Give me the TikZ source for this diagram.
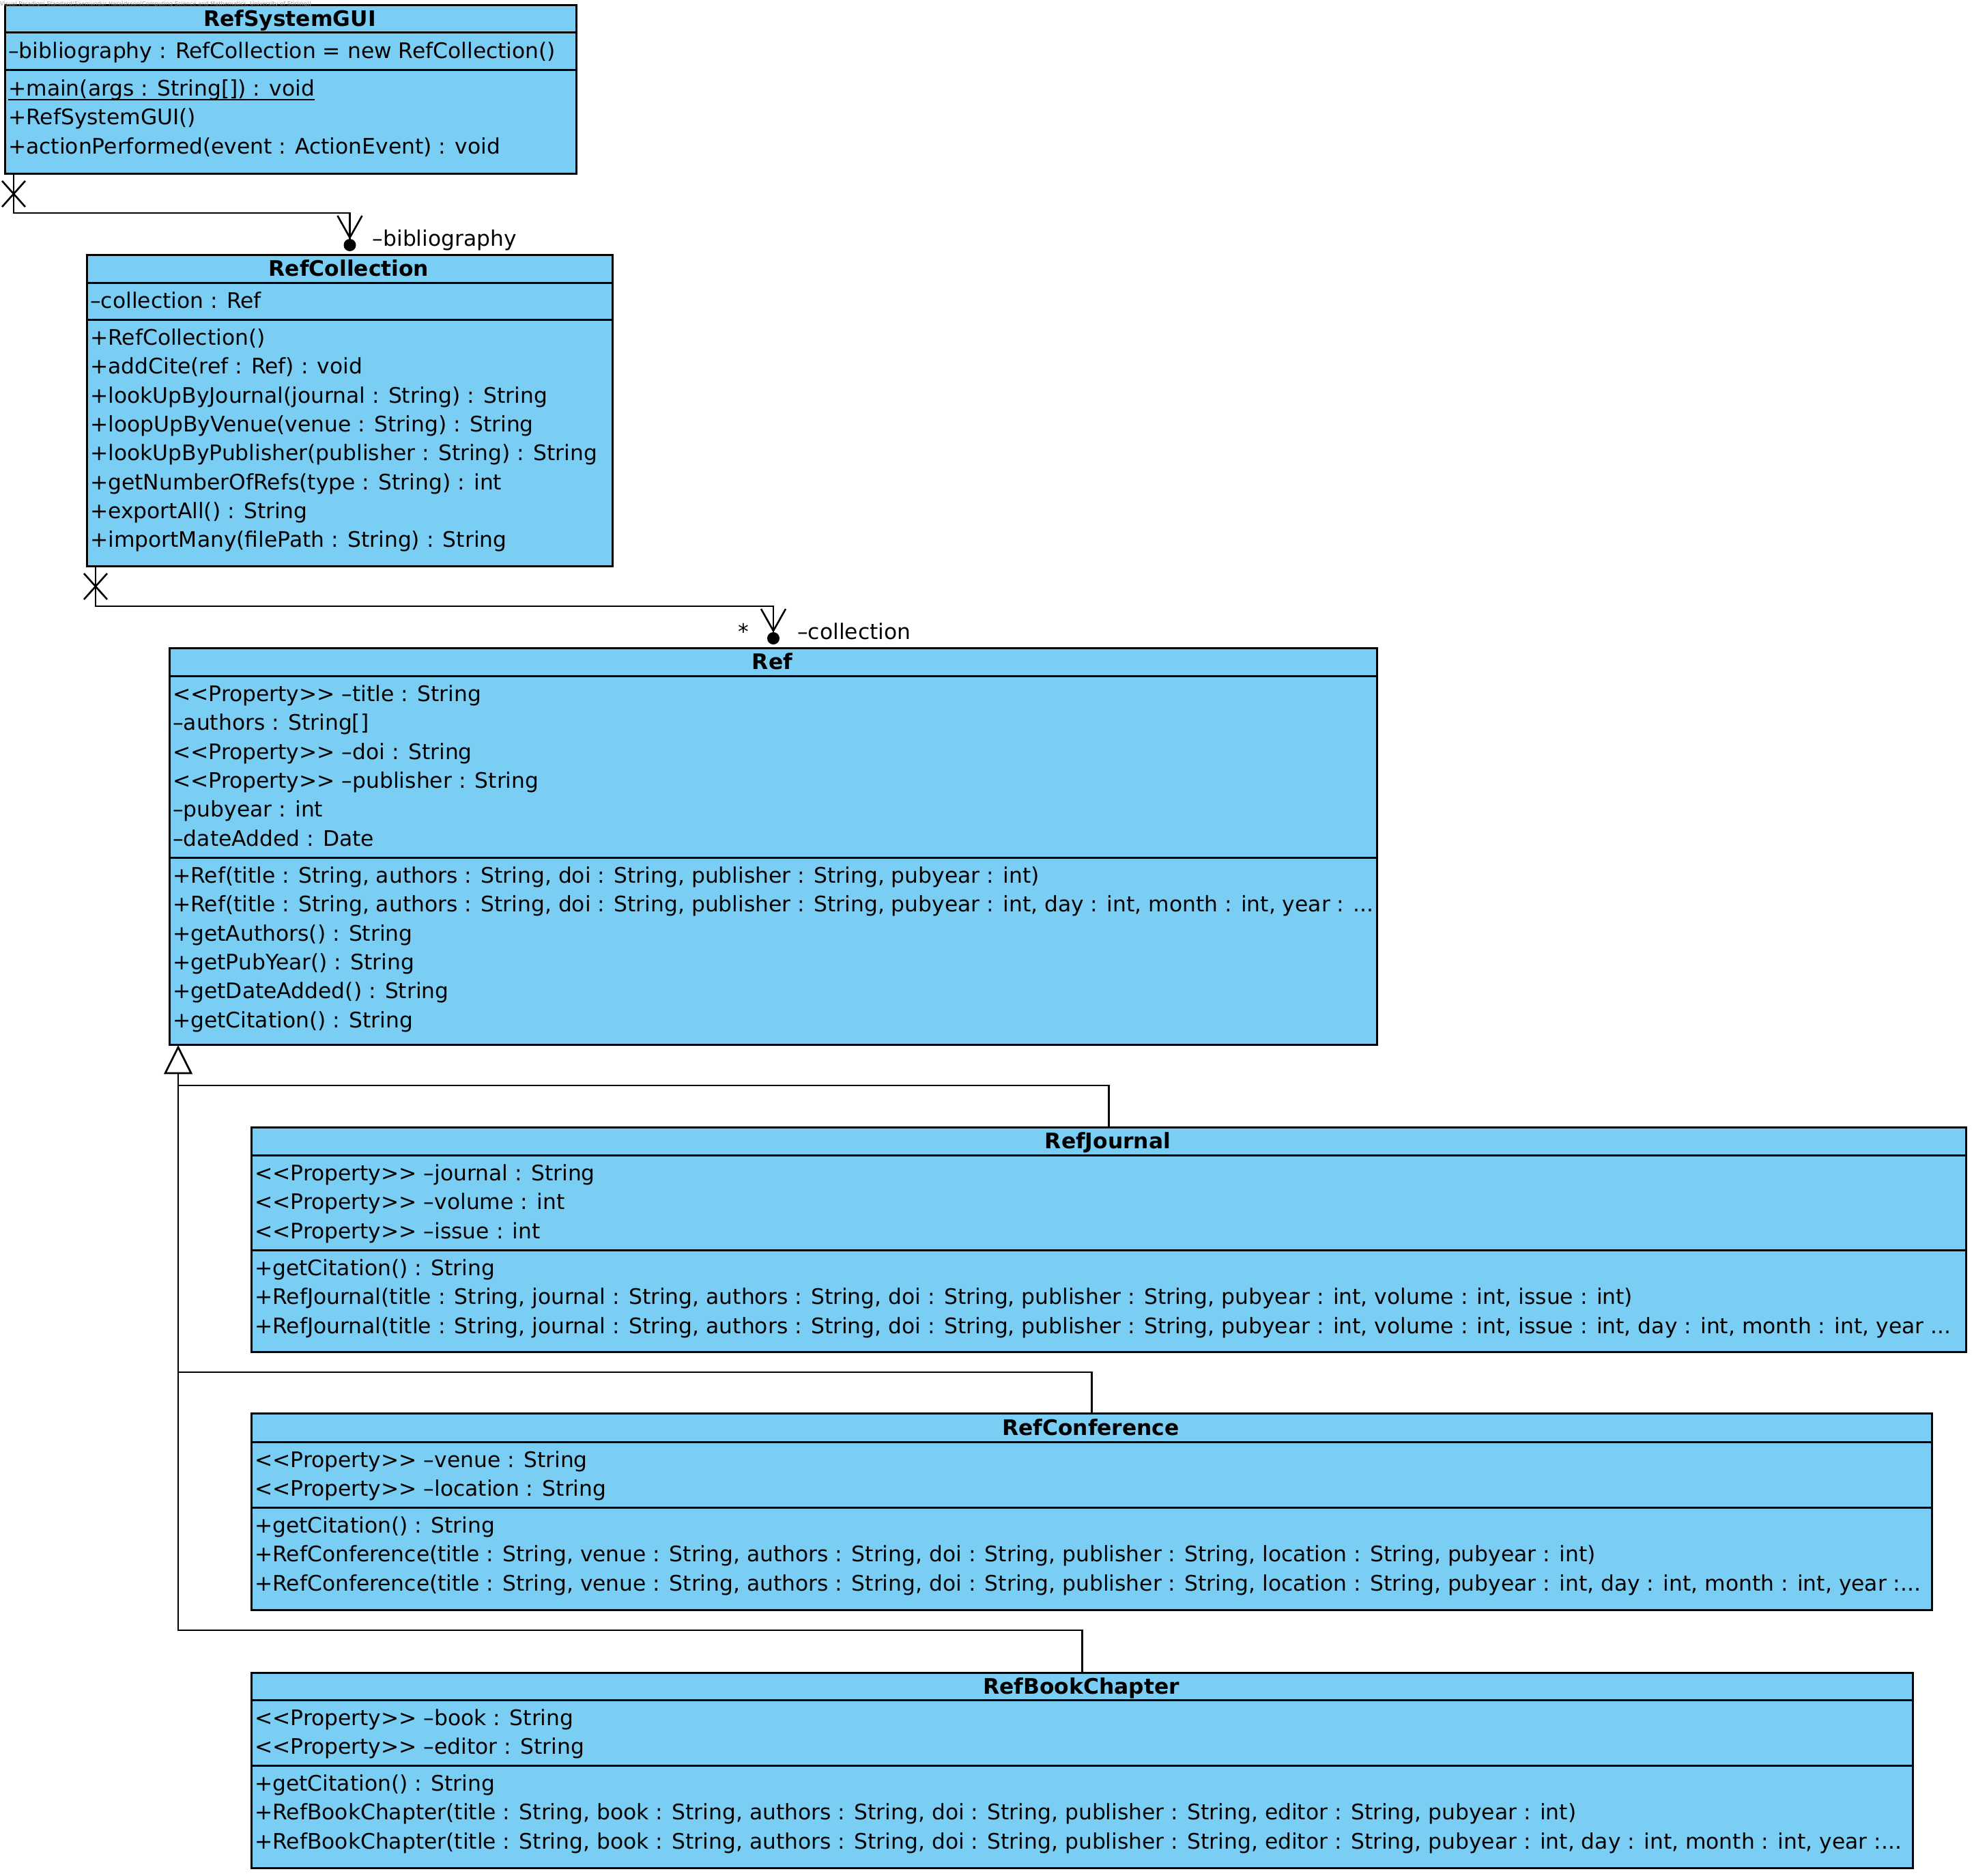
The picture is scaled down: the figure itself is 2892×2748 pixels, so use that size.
\documentclass[tikz,border=0pt]{standalone}
\usepackage{fontspec}
\setmainfont{DejaVu Sans}
\usetikzlibrary{calc}
\definecolor{umlblue}{RGB}{122,206,244}
\newcommand{\umlfont}{\fontsize{31.35}{42}\selectfont}
% stereotype text, kept free of the << >> ligatures
\newcommand{\prop}{<{}<Property>{}>}
\tikzset{
  classbox/.style={draw, line width=3pt, fill=umlblue, inner sep=0pt, anchor=north west},
  sepline/.style={line width=3pt},
  row/.style={anchor=base west, inner sep=0pt, font=\umlfont},
  ctitle/.style={anchor=base, inner sep=0pt, font=\umlfont\bfseries},
  conn/.style={line width=2.7pt},
  endmark/.style={line width=2.6pt},
  dotnode/.style={circle, fill=black, inner sep=0pt, minimum size=18pt},
  rolelabel/.style={anchor=base west, inner sep=0pt, font=\umlfont},
}
\begin{document}
\begin{tikzpicture}[x=1pt, y=-1pt]
\useasboundingbox (0,0) rectangle (2892,2748);

% ---------- RefSystemGUI ----------
\node[classbox, minimum width=837pt, minimum height=247pt] (gui) at (6,6) {};
\draw[sepline] ($(gui.north west)+(0,42)$) -- ($(gui.north east)+(0,42)$);
\draw[sepline] ($(gui.north west)+(0,97)$) -- ($(gui.north east)+(0,97)$);
\node[ctitle] (gui-t) at (424.5,38.5) {RefSystemGUI};
\node[row] (gui-a1) at (12,85.5) {–bibliography : RefCollection = new RefCollection()};
\node[row] (gui-o1) at (12,140.5) {+main(args : String[]) : void};
\draw[line width=2.4pt] ([yshift=-5.5pt]gui-o1.base west) -- ([yshift=-5.5pt]gui-o1.base east);
\node[row] (gui-o2) at (12,182.8) {+RefSystemGUI()};
\node[row] (gui-o3) at (12,225.1) {+actionPerformed(event : ActionEvent) : void};

% ---------- RefCollection ----------
\node[classbox, minimum width=770pt, minimum height=456pt] (coll) at (126,372) {};
\draw[sepline] ($(coll.north west)+(0,42)$) -- ($(coll.north east)+(0,42)$);
\draw[sepline] ($(coll.north west)+(0,96)$) -- ($(coll.north east)+(0,96)$);
\node[ctitle] (coll-t) at (511,404.5) {RefCollection};
\node[row] (coll-a1) at (132,451.5) {–collection : Ref};
\node[row] (coll-o1) at (132,505.5) {+RefCollection()};
\node[row] (coll-o2) at (132,547.8) {+addCite(ref : Ref) : void};
\node[row] (coll-o3) at (132,590.1) {+lookUpByJournal(journal : String) : String};
\node[row] (coll-o4) at (132,632.4) {+loopUpByVenue(venue : String) : String};
\node[row] (coll-o5) at (132,674.7) {+lookUpByPublisher(publisher : String) : String};
\node[row] (coll-o6) at (132,717.0) {+getNumberOfRefs(type : String) : int};
\node[row] (coll-o7) at (132,759.3) {+exportAll() : String};
\node[row] (coll-o8) at (132,801.6) {+importMany(filePath : String) : String};

% ---------- Ref ----------
\node[classbox, minimum width=1769pt, minimum height=581pt] (ref) at (247,948) {};
\draw[sepline] ($(ref.north west)+(0,42)$) -- ($(ref.north east)+(0,42)$);
\draw[sepline] ($(ref.north west)+(0,308)$) -- ($(ref.north east)+(0,308)$);
\node[ctitle] (ref-t) at (1131.5,980.5) {Ref};
\node[row] (ref-a1) at (253,1027.5) {\prop{} –title : String};
\node[row] (ref-a2) at (253,1069.8) {–authors : String[]};
\node[row] (ref-a3) at (253,1112.1) {\prop{} –doi : String};
\node[row] (ref-a4) at (253,1154.4) {\prop{} –publisher : String};
\node[row] (ref-a5) at (253,1196.7) {–pubyear : int};
\node[row] (ref-a6) at (253,1239.0) {–dateAdded : Date};
\node[row] (ref-o1) at (253,1293.5) {+Ref(title : String, authors : String, doi : String, publisher : String, pubyear : int)};
\node[row] (ref-o2) at (253,1335.8) {+Ref(title : String, authors : String, doi : String, publisher : String, pubyear : int, day : int, month : int, year : ...};
\node[row] (ref-o3) at (253,1378.1) {+getAuthors() : String};
\node[row] (ref-o4) at (253,1420.4) {+getPubYear() : String};
\node[row] (ref-o5) at (253,1462.7) {+getDateAdded() : String};
\node[row] (ref-o6) at (253,1505.0) {+getCitation() : String};

% ---------- RefJournal ----------
\node[classbox, minimum width=2512pt, minimum height=329pt] (journal) at (367,1650) {};
\draw[sepline] ($(journal.north west)+(0,42)$) -- ($(journal.north east)+(0,42)$);
\draw[sepline] ($(journal.north west)+(0,181)$) -- ($(journal.north east)+(0,181)$);
\node[ctitle] (journal-t) at (1623,1682.5) {RefJournal};
\node[row] (journal-a1) at (373,1729.5) {\prop{} –journal : String};
\node[row] (journal-a2) at (373,1771.8) {\prop{} –volume : int};
\node[row] (journal-a3) at (373,1814.1) {\prop{} –issue : int};
\node[row] (journal-o1) at (373,1868.5) {+getCitation() : String};
\node[row] (journal-o2) at (373,1910.8) {+RefJournal(title : String, journal : String, authors : String, doi : String, publisher : String, pubyear : int, volume : int, issue : int)};
\node[row] (journal-o3) at (373,1953.1) {+RefJournal(title : String, journal : String, authors : String, doi : String, publisher : String, pubyear : int, volume : int, issue : int, day : int, month : int, year ...};

% ---------- RefConference ----------
\node[classbox, minimum width=2462pt, minimum height=288pt] (conf) at (367,2069) {};
\draw[sepline] ($(conf.north west)+(0,43)$) -- ($(conf.north east)+(0,43)$);
\draw[sepline] ($(conf.north west)+(0,139)$) -- ($(conf.north east)+(0,139)$);
\node[ctitle] (conf-t) at (1598,2102) {RefConference};
\node[row] (conf-a1) at (373,2149.5) {\prop{} –venue : String};
\node[row] (conf-a2) at (373,2191.8) {\prop{} –location : String};
\node[row] (conf-o1) at (373,2245.5) {+getCitation() : String};
\node[row] (conf-o2) at (373,2287.8) {+RefConference(title : String, venue : String, authors : String, doi : String, publisher : String, location : String, pubyear : int)};
\node[row] (conf-o3) at (373,2330.1) {+RefConference(title : String, venue : String, authors : String, doi : String, publisher : String, location : String, pubyear : int, day : int, month : int, year :...};

% ---------- RefBookChapter ----------
\node[classbox, minimum width=2434pt, minimum height=286pt] (book) at (367,2449) {};
\draw[sepline] ($(book.north west)+(0,41)$) -- ($(book.north east)+(0,41)$);
\draw[sepline] ($(book.north west)+(0,137)$) -- ($(book.north east)+(0,137)$);
\node[ctitle] (book-t) at (1584,2481) {RefBookChapter};
\node[row] (book-a1) at (373,2527.5) {\prop{} –book : String};
\node[row] (book-a2) at (373,2569.8) {\prop{} –editor : String};
\node[row] (book-o1) at (373,2623.5) {+getCitation() : String};
\node[row] (book-o2) at (373,2665.8) {+RefBookChapter(title : String, book : String, authors : String, doi : String, publisher : String, editor : String, pubyear : int)};
\node[row] (book-o3) at (373,2708.1) {+RefBookChapter(title : String, book : String, authors : String, doi : String, publisher : String, editor : String, pubyear : int, day : int, month : int, year :...};

% ---------- association RefSystemGUI -> RefCollection ----------
\coordinate (a1s) at ($(gui.south west)+(14,0)$);
\node[dotnode] (d1) at ($(coll.north)+(0,-13)$) {};
\draw[conn] (a1s) |- ($(d1)+(0,-47)$) -- (d1.center);
\coordinate (v1) at ($(d1)+(0,-11)$);
\draw[endmark] ($(v1)+(-18,-32)$) -- (v1) -- ($(v1)+(18,-32)$);
\coordinate (x1) at ($(a1s)+(0,28)$);
\draw[endmark] ($(x1)+(-17,-19)$) -- ($(x1)+(17,19)$);
\draw[endmark] ($(x1)+(-17,19)$) -- ($(x1)+(17,-19)$);
\node[rolelabel] (l1) at ($(d1)+(33,1)$) {–bibliography};

% ---------- association RefCollection -> Ref ----------
\coordinate (a2s) at ($(coll.south west)+(14,0)$);
\node[dotnode] (d2) at ($(ref.north)+(0,-13)$) {};
\draw[conn] (a2s) |- ($(d2)+(0,-47)$) -- (d2.center);
\coordinate (v2) at ($(d2)+(0,-11)$);
\draw[endmark] ($(v2)+(-18,-32)$) -- (v2) -- ($(v2)+(18,-32)$);
\coordinate (x2) at ($(a2s)+(0,28)$);
\draw[endmark] ($(x2)+(-17,-19)$) -- ($(x2)+(17,19)$);
\draw[endmark] ($(x2)+(-17,19)$) -- ($(x2)+(17,-19)$);
\node[rolelabel] (l2) at ($(d2)+(35,1)$) {–collection};
\node[anchor=base, inner sep=0pt, font=\umlfont] (m2) at ($(d2)+(-44,1)$) {*};

% ---------- generalizations to Ref ----------
\coordinate (tri) at ($(ref.south west)+(14,2)$);
\coordinate (genbase) at ($(tri)+(0,38)$);
\draw[conn] (genbase) |- ($(journal.north)+(0,-60)$) -- (journal.north);
\draw[conn] (genbase) |- ($(conf.north)+(0,-59)$) -- (conf.north);
\draw[conn] (genbase) |- ($(book.north)+(0,-61)$) -- (book.north);
\draw[conn, fill=white, line join=miter] (tri) -- ($(tri)+(-19,38)$) -- ($(tri)+(19,38)$) -- cycle;

% ---------- tool stamp ----------
\node[anchor=base west, inner sep=0pt, text=gray!80, font=\fontsize{8.2}{9}\selectfont] (stamp) at (0,9)
  {Visual Paradigm Standard(Saemundur Haraldsson(Computing Science and Mathematics, University of Stirling))};
\end{tikzpicture}
\end{document}
